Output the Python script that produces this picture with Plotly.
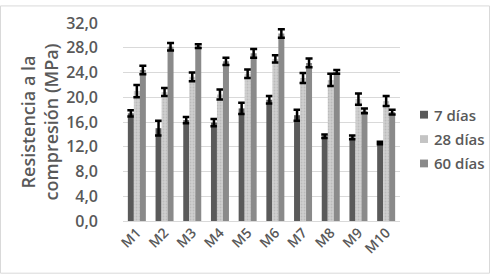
import plotly.graph_objects as go

categories = ["M1", "M2", "M3", "M4", "M5", "M6", "M7", "M8", "M9", "M10"]
series_names = ["7 días", "28 días", "60 días"]
v7 = [17.4, 15.0, 16.3, 15.9, 18.2, 19.6, 17.1, 13.7, 13.5, 12.6]
e7 = [0.5, 1.2, 0.5, 0.6, 0.9, 0.6, 0.9, 0.3, 0.3, 0.2]
v28 = [21.0, 20.85, 23.3, 20.45, 23.8, 26.2, 23.1, 22.8, 19.7, 19.4]
e28 = [1.0, 0.65, 0.7, 0.8, 0.7, 0.6, 0.8, 1.0, 0.9, 0.8]
v60 = [24.4, 28.15, 28.25, 25.8, 27.1, 30.3, 25.55, 24.1, 17.8, 17.6]
e60 = [0.7, 0.6, 0.3, 0.6, 0.7, 0.7, 0.7, 0.3, 0.4, 0.4]
y_ticks = [0, 4, 8, 12, 16, 20, 24, 28, 32]
y_tick_text = ["0,0", "4,0", "8,0", "12,0", "16,0", "20,0", "24,0", "28,0", "32,0"]
series_colors = ["#5a5a5a", "#c4c4c4", "#8a8a8a"]

font_fam = "Open Sans, Liberation Sans, sans-serif"
txt_col = "#595959"

W, H = 490, 275
ml, mr, mt, mb = 123, 90, 18, 54
pw, ph = W - ml - mr, H - mt - mb

fig = go.Figure()
err_style = dict(type="data", color="black", thickness=2.5, width=3.5)
fig.add_trace(go.Bar(name=series_names[0], x=categories, y=v7,
                     marker=dict(color=series_colors[0], line=dict(width=0)),
                     error_y=dict(array=e7, **err_style)))
fig.add_trace(go.Bar(name=series_names[1], x=categories, y=v28,
                     marker=dict(color=series_colors[1], line=dict(width=0),
                                 pattern=dict(shape=".", fgcolor="#a8a8a8", bgcolor="#cfcfcf",
                                              size=3, solidity=0.3)),
                     error_y=dict(array=e28, **err_style)))
fig.add_trace(go.Bar(name=series_names[2], x=categories, y=v60,
                     marker=dict(color=series_colors[2], line=dict(width=0)),
                     error_y=dict(array=e60, **err_style)))

# legend drawn in pixel space (paper fractions computed from pixel positions)
def px_x(px):
    return (px - ml) / pw

def px_y(py):
    return (H - mb - py) / ph

shapes = [dict(type="rect", xref="paper", yref="paper",
               x0=px_x(0.5), x1=px_x(W - 0.5), y0=px_y(H - 0.5), y1=px_y(0.5),
               line=dict(color="#d9d9d9", width=1), layer="below")]
annotations = []
legend_y = [112, 137, 162]
for name, col, ly in zip(series_names, series_colors, legend_y):
    shapes.append(dict(type="rect", xref="paper", yref="paper",
                       x0=px_x(420), x1=px_x(428), y0=px_y(ly + 4), y1=px_y(ly - 4),
                       fillcolor=col, line=dict(width=0)))
    annotations.append(dict(xref="paper", yref="paper", x=px_x(432), y=px_y(ly),
                            xanchor="left", yanchor="middle", showarrow=False,
                            text=name,
                            font=dict(size=15, color=txt_col, family=font_fam, weight=600)))

fig.update_layout(
    width=W, height=H,
    margin=dict(l=ml, r=mr, t=mt, b=mb, pad=0),
    paper_bgcolor="white", plot_bgcolor="white",
    barmode="group", bargap=0.35, bargroupgap=0,
    font=dict(family=font_fam, color=txt_col, size=14),
    showlegend=False,
    xaxis=dict(tickangle=-45, showline=False, ticks="",
               tickfont=dict(size=14, color=txt_col, family=font_fam, weight=600)),
    yaxis=dict(range=[0, 32], tickvals=y_ticks, ticktext=y_tick_text,
               showgrid=True, gridcolor="#d9d9d9", gridwidth=1,
               zeroline=True, zerolinecolor="#d9d9d9", zerolinewidth=1,
               ticks="", ticklabelstandoff=24,
               tickfont=dict(size=16, color=txt_col, family=font_fam, weight=600),
               title=dict(text="Resistencia a la<br>compresión (MPa)",
                          font=dict(size=18, color=txt_col, family=font_fam, weight=600),
                          standoff=2)),
    shapes=shapes,
    annotations=annotations,
)

fig.write_html("out.html", config={"displayModeBar": False},
               post_script="document.body.style.margin='0';document.body.style.overflow='hidden';")
